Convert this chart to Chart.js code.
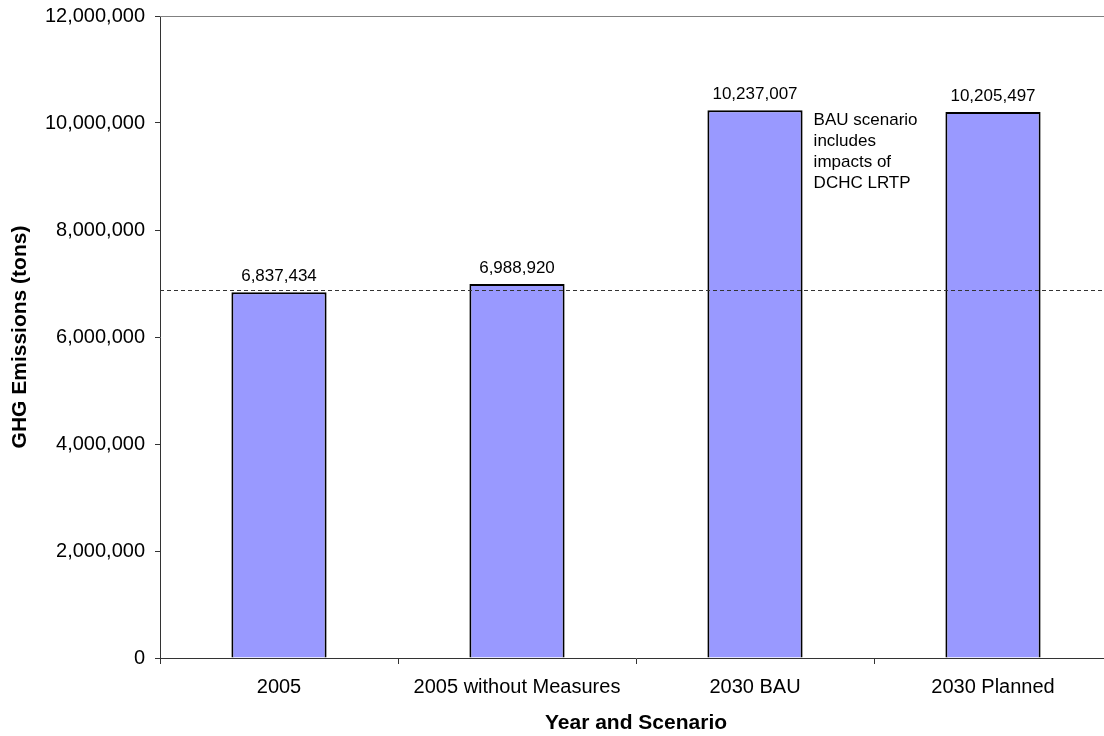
<!DOCTYPE html>
<html>
<head>
<meta charset="utf-8">
<title>GHG Emissions by Year and Scenario</title>
<script src="https://cdn.jsdelivr.net/npm/chart.js@4/dist/chart.umd.min.js"></script>
<style>
  html, body { margin: 0; padding: 0; background: #fff; overflow: hidden; }
  #wrap { position: relative; width: 1112px; height: 736px; }
</style>
</head>
<body>
<div id="wrap"><canvas id="chart"></canvas></div>
<script>
// Scenario categories and emission totals (tons)
const categories = ['2005', '2005 without Measures', '2030 BAU', '2030 Planned'];
const emissions = [6837434, 6988920, 10237007, 10205497];

// Dashed reference level across the plot
const referenceLevel = 6880000;

// Value axis range
const yMin = 0;
const yMax = 12000000;
const yStep = 2000000;

// Note placed beside the 2030 BAU bar
const noteIndex = 2;
const noteLines = ['BAU scenario', 'includes', 'impacts of', 'DCHC LRTP'];

const FONT = "'Liberation Sans', Arial, Helvetica, sans-serif";
const fmt = v => Number(v).toLocaleString('en-US');

const overlay = {
  id: 'overlay',
  afterDatasetsDraw(chart) {
    const { ctx, chartArea: a, scales: { y } } = chart;
    const meta = chart.getDatasetMeta(0);
    ctx.save();

    // top frame line
    ctx.strokeStyle = '#808080';
    ctx.lineWidth = 1;
    ctx.beginPath();
    ctx.moveTo(a.left, Math.round(a.top) + 0.5);
    ctx.lineTo(a.right, Math.round(a.top) + 0.5);
    ctx.stroke();

    // dashed reference line
    const ry = Math.round(y.getPixelForValue(referenceLevel)) + 0.5;
    ctx.strokeStyle = '#333';
    ctx.setLineDash([4, 3]);
    ctx.beginPath();
    ctx.moveTo(a.left, ry);
    ctx.lineTo(a.right, ry);
    ctx.stroke();
    ctx.setLineDash([]);

    // value labels above bars
    ctx.fillStyle = '#000';
    ctx.font = '17px ' + FONT;
    ctx.textAlign = 'center';
    ctx.textBaseline = 'alphabetic';
    meta.data.forEach((bar, i) => {
      ctx.fillText(fmt(emissions[i]), bar.x, bar.y - 11);
    });

    // note beside the BAU bar
    const nb = meta.data[noteIndex];
    ctx.textAlign = 'left';
    const nx = nb.x + nb.width / 2 + 11;
    noteLines.forEach((line, k) => {
      ctx.fillText(line, nx, nb.y + 15 + k * 20.8);
    });
    ctx.restore();
  }
};

new Chart(document.getElementById('chart'), {
  type: 'bar',
  data: {
    labels: categories,
    datasets: [{
      data: emissions,
      backgroundColor: '#9999FF',
      borderColor: '#000',
      borderWidth: 2,
      barPercentage: 0.4,
      categoryPercentage: 1.0
    }]
  },
  options: {
    responsive: true,
    maintainAspectRatio: false,
    animation: false,
    layout: { padding: { top: 16, right: 0, left: 0, bottom: 0 } },
    plugins: {
      legend: { display: false },
      tooltip: { enabled: false }
    },
    scales: {
      x: {
        offset: true,
        afterFit(scale) {
          scale.height = 78;
          scale.paddingLeft = 0;
          scale.paddingRight = 0;
        },
        grid: {
          offset: true,
          drawOnChartArea: false,
          tickLength: 6,
          color: '#333',
          lineWidth: 1
        },
        border: { display: true, color: '#333', width: 1 },
        ticks: {
          color: '#000',
          font: { family: FONT, size: 20 },
          padding: 11,
          maxRotation: 0,
          autoSkip: false
        },
        title: {
          display: true,
          text: 'Year and Scenario',
          color: '#000',
          font: { family: FONT, size: 21, weight: 'bold' },
          padding: { top: 0, bottom: 0 }
        }
      },
      y: {
        min: yMin,
        max: yMax,
        afterFit(scale) {
          scale.width = 160;
          scale.paddingTop = 0;
          scale.paddingBottom = 0;
        },
        grid: {
          drawOnChartArea: false,
          tickLength: 5,
          color: '#333',
          lineWidth: 1
        },
        border: { display: true, color: '#333', width: 1 },
        ticks: {
          stepSize: yStep,
          color: '#000',
          font: { family: FONT, size: 20 },
          padding: 10,
          callback: v => fmt(v)
        },
        title: {
          display: true,
          text: 'GHG Emissions (tons)',
          color: '#000',
          font: { family: FONT, size: 21, weight: 'bold' },
          padding: { top: 8, bottom: 0 }
        }
      }
    }
  },
  plugins: [overlay]
});
</script>
</body>
</html>
